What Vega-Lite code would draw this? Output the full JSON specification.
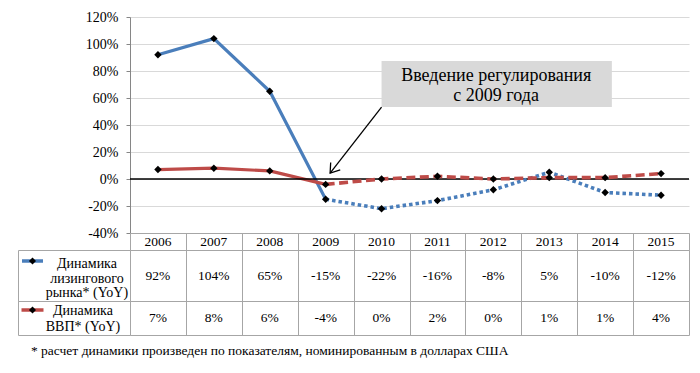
{
  "$schema": "https://vega.github.io/schema/vega-lite/v6.json",
  "background": "white",
  "padding": {"left": 13, "top": 10, "right": 16, "bottom": 17},
  "autosize": {"type": "pad"},
  "bounds": "flush",
  "spacing": 0,
  "columns": 2,
  "title": {
    "text": "* расчет динамики произведен по показателям, номинированным в долларах США",
    "orient": "bottom", "anchor": "start", "font": "Liberation Serif", "fontSize": 13.5,
    "fontWeight": "normal", "color": "black", "offset": 8, "dx": 17
  },
  "config": {
    "view": {"stroke": null},
    "font": "Liberation Serif",
    "locale": {"number": {"decimal": ".", "thousands": ",", "grouping": [3], "currency": ["$", ""], "minus": "-", "percent": "%"}}
  },
  "datasets": {
    "d": [
      {"year": 2006, "series": "Динамика лизингового рынка* (YoY)", "value": 0.92},
      {"year": 2007, "series": "Динамика лизингового рынка* (YoY)", "value": 1.04},
      {"year": 2008, "series": "Динамика лизингового рынка* (YoY)", "value": 0.65},
      {"year": 2009, "series": "Динамика лизингового рынка* (YoY)", "value": -0.15},
      {"year": 2010, "series": "Динамика лизингового рынка* (YoY)", "value": -0.22},
      {"year": 2011, "series": "Динамика лизингового рынка* (YoY)", "value": -0.16},
      {"year": 2012, "series": "Динамика лизингового рынка* (YoY)", "value": -0.08},
      {"year": 2013, "series": "Динамика лизингового рынка* (YoY)", "value": 0.05},
      {"year": 2014, "series": "Динамика лизингового рынка* (YoY)", "value": -0.10},
      {"year": 2015, "series": "Динамика лизингового рынка* (YoY)", "value": -0.12},
      {"year": 2006, "series": "Динамика ВВП* (YoY)", "value": 0.07},
      {"year": 2007, "series": "Динамика ВВП* (YoY)", "value": 0.08},
      {"year": 2008, "series": "Динамика ВВП* (YoY)", "value": 0.06},
      {"year": 2009, "series": "Динамика ВВП* (YoY)", "value": -0.04},
      {"year": 2010, "series": "Динамика ВВП* (YoY)", "value": 0.00},
      {"year": 2011, "series": "Динамика ВВП* (YoY)", "value": 0.02},
      {"year": 2012, "series": "Динамика ВВП* (YoY)", "value": 0.00},
      {"year": 2013, "series": "Динамика ВВП* (YoY)", "value": 0.01},
      {"year": 2014, "series": "Динамика ВВП* (YoY)", "value": 0.01},
      {"year": 2015, "series": "Динамика ВВП* (YoY)", "value": 0.04}
    ],
    "labels": [
      {"series": "Динамика лизингового рынка* (YoY)", "label": "Динамика\nлизингового\nрынка* (YoY)"},
      {"series": "Динамика ВВП* (YoY)", "label": "Динамика\nВВП* (YoY)"}
    ],
    "ann": [
      {"note": "Введение регулирования\nс 2009 года", "x": 2010.0, "x2": 2014.12, "y": 0.874, "y2": 0.533, "tx": 2012.05, "ty": 0.689, "ax": 2009.08, "ay": 0.044}
    ]
  },
  "concat": [
    {
      "width": 112, "height": 216,
      "data": {"values": [{}]},
      "mark": {"type": "text"}
    },
    {
      "width": 559, "height": 216,
      "encoding": {
        "x": {"field": "year", "type": "quantitative", "scale": {"domain": [2005.5, 2015.5], "nice": false, "zero": false}, "axis": null},
        "y": {"field": "value", "type": "quantitative", "scale": {"domain": [-0.4, 1.2], "nice": false, "zero": false},
          "axis": {"format": ".0%", "values": [-0.4, -0.2, 0, 0.2, 0.4, 0.6, 0.8, 1.0, 1.2], "title": null,
            "grid": true, "gridColor": "#d9d9d9", "domainColor": "#868686", "tickColor": "#868686",
            "tickSize": 4, "labelPadding": 8, "labelFont": "Liberation Serif", "labelFontSize": 14, "labelColor": "black"}}
      },
      "layer": [
        {
          "data": {"name": "d"},
          "transform": [{"filter": "datum.year <= 2009"}],
          "mark": {"type": "line", "strokeWidth": 3.2},
          "encoding": {
            "color": {"field": "series", "type": "nominal",
              "scale": {"domain": ["Динамика лизингового рынка* (YoY)", "Динамика ВВП* (YoY)"], "range": ["#4a7ebb", "#be4b48"]}, "legend": null}
          }
        },
        {
          "data": {"name": "d"},
          "transform": [{"filter": "datum.value == 0 && datum.year == 2010"}],
          "mark": {"type": "rule", "color": "black", "strokeWidth": 1.5},
          "encoding": {"x": null}
        },
        {
          "data": {"name": "d"},
          "transform": [{"filter": "datum.year >= 2009"}],
          "mark": {"type": "line", "strokeWidth": 3.6},
          "encoding": {
            "color": {"field": "series", "type": "nominal", "legend": null},
            "strokeDash": {"field": "series", "type": "nominal",
              "scale": {"domain": ["Динамика лизингового рынка* (YoY)", "Динамика ВВП* (YoY)"], "range": [[3.5, 3], [9, 4.5]]}, "legend": null}
          }
        },
        {
          "data": {"name": "d"},
          "mark": {"type": "point", "shape": "diamond", "filled": true, "color": "black", "size": 55, "opacity": 1}
        },
        {
          "data": {"name": "ann"},
          "mark": {"type": "rect", "color": "#d9d9d9"},
          "encoding": {
            "x": {"field": "x", "type": "quantitative"}, "x2": {"field": "x2"},
            "y": {"field": "y", "type": "quantitative"}, "y2": {"field": "y2"}
          }
        },
        {
          "data": {"name": "ann"},
          "mark": {"type": "text", "lineBreak": "\n", "fontSize": 18, "lineHeight": 20, "color": "black", "font": "Liberation Serif", "dy": -10},
          "encoding": {
            "x": {"field": "tx", "type": "quantitative"},
            "y": {"field": "ty", "type": "quantitative"},
            "text": {"field": "note"}
          }
        },
        {
          "data": {"name": "ann"},
          "mark": {"type": "rule", "color": "black", "strokeWidth": 1.3},
          "encoding": {
            "x": {"field": "x", "type": "quantitative"}, "y": {"field": "y2", "type": "quantitative"},
            "x2": {"field": "ax"}, "y2": {"field": "ay"}
          }
        },
        {
          "data": {"name": "ann"},
          "mark": {"type": "point", "shape": "M-0.7,1L0,0L0.7,1", "filled": false, "color": "black", "strokeWidth": 1.3, "size": 300, "angle": 218, "opacity": 1},
          "encoding": {
            "x": {"field": "ax", "type": "quantitative"}, "y": {"field": "ay", "type": "quantitative"}
          }
        }
      ]
    },
    {
      "width": 112, "height": 17,
      "data": {"values": [{}]},
      "mark": {"type": "text"}
    },
    {
      "width": 559, "height": 17,
      "view": {"stroke": "#a6a6a6"},
      "data": {"name": "d"},
      "transform": [{"filter": "datum.series == 'Динамика ВВП* (YoY)'"}],
      "mark": {"type": "text", "fontSize": 13.5, "color": "black"},
      "encoding": {
        "x": {"field": "year", "type": "quantitative", "scale": {"domain": [2005.5, 2015.5], "nice": false, "zero": false},
          "axis": {"values": [2006.5, 2007.5, 2008.5, 2009.5, 2010.5, 2011.5, 2012.5, 2013.5, 2014.5], "grid": true, "gridColor": "#a6a6a6", "gridOpacity": 1, "labels": false, "ticks": false, "domain": false, "title": null}},
        "text": {"field": "year", "type": "ordinal"}
      }
    },
    {
      "width": 112, "height": 51,
      "view": {"stroke": "#a6a6a6"},
      "data": {"name": "labels"},
      "transform": [{"filter": "datum.series == 'Динамика лизингового рынка* (YoY)'"}],
      "layer": [
        {
          "mark": {"type": "point", "shape": "M-1,0L1,0", "filled": false, "strokeWidth": 3.5, "size": 441, "opacity": 1, "yOffset": -14.5},
          "encoding": {
            "x": {"datum": "glyph", "type": "nominal", "scale": {"type": "point", "domain": ["glyph", "text"], "padding": 0.528, "align": 0.252}, "axis": null},
            "color": {"field": "series", "type": "nominal",
              "scale": {"domain": ["Динамика лизингового рынка* (YoY)", "Динамика ВВП* (YoY)"], "range": ["#4a7ebb", "#be4b48"]}, "legend": null}
          }
        },
        {
          "mark": {"type": "point", "shape": "diamond", "filled": true, "color": "black", "size": 50, "opacity": 1, "yOffset": -14.5},
          "encoding": {"x": {"datum": "glyph", "type": "nominal"}}
        },
        {
          "mark": {"type": "text", "lineBreak": "\n", "fontSize": 14, "lineHeight": 14.5, "color": "black", "dy": -11.5},
          "encoding": {"x": {"datum": "text", "type": "nominal"}, "text": {"field": "label"}}
        }
      ]
    },
    {
      "width": 559, "height": 51,
      "view": {"stroke": "#a6a6a6"},
      "data": {"name": "d"},
      "transform": [{"filter": "datum.series == 'Динамика лизингового рынка* (YoY)'"}],
      "mark": {"type": "text", "fontSize": 13.5, "color": "black"},
      "encoding": {
        "x": {"field": "year", "type": "quantitative", "scale": {"domain": [2005.5, 2015.5], "nice": false, "zero": false},
          "axis": {"values": [2006.5, 2007.5, 2008.5, 2009.5, 2010.5, 2011.5, 2012.5, 2013.5, 2014.5], "grid": true, "gridColor": "#a6a6a6", "gridOpacity": 1, "labels": false, "ticks": false, "domain": false, "title": null}},
        "text": {"field": "value", "type": "quantitative", "format": ".0%"}
      }
    },
    {
      "width": 112, "height": 34,
      "view": {"stroke": "#a6a6a6"},
      "data": {"name": "labels"},
      "transform": [{"filter": "datum.series == 'Динамика ВВП* (YoY)'"}],
      "layer": [
        {
          "mark": {"type": "point", "shape": "M-1,0L1,0", "filled": false, "strokeWidth": 3.5, "size": 484, "opacity": 1, "yOffset": -8},
          "encoding": {
            "x": {"datum": "glyph", "type": "nominal", "scale": {"type": "point", "domain": ["glyph", "text"], "padding": 0.528, "align": 0.252}, "axis": null},
            "color": {"field": "series", "type": "nominal",
              "scale": {"domain": ["Динамика лизингового рынка* (YoY)", "Динамика ВВП* (YoY)"], "range": ["#4a7ebb", "#be4b48"]}, "legend": null}
          }
        },
        {
          "mark": {"type": "point", "shape": "diamond", "filled": true, "color": "black", "size": 50, "opacity": 1, "yOffset": -8},
          "encoding": {"x": {"datum": "glyph", "type": "nominal"}}
        },
        {
          "mark": {"type": "text", "lineBreak": "\n", "fontSize": 14, "lineHeight": 16, "color": "black", "dx": -4, "dy": -7},
          "encoding": {"x": {"datum": "text", "type": "nominal"}, "text": {"field": "label"}}
        }
      ]
    },
    {
      "width": 559, "height": 34,
      "view": {"stroke": "#a6a6a6"},
      "data": {"name": "d"},
      "transform": [{"filter": "datum.series == 'Динамика ВВП* (YoY)'"}],
      "mark": {"type": "text", "fontSize": 13.5, "color": "black"},
      "encoding": {
        "x": {"field": "year", "type": "quantitative", "scale": {"domain": [2005.5, 2015.5], "nice": false, "zero": false},
          "axis": {"values": [2006.5, 2007.5, 2008.5, 2009.5, 2010.5, 2011.5, 2012.5, 2013.5, 2014.5], "grid": true, "gridColor": "#a6a6a6", "gridOpacity": 1, "labels": false, "ticks": false, "domain": false, "title": null}},
        "text": {"field": "value", "type": "quantitative", "format": ".0%"}
      }
    }
  ]
}
